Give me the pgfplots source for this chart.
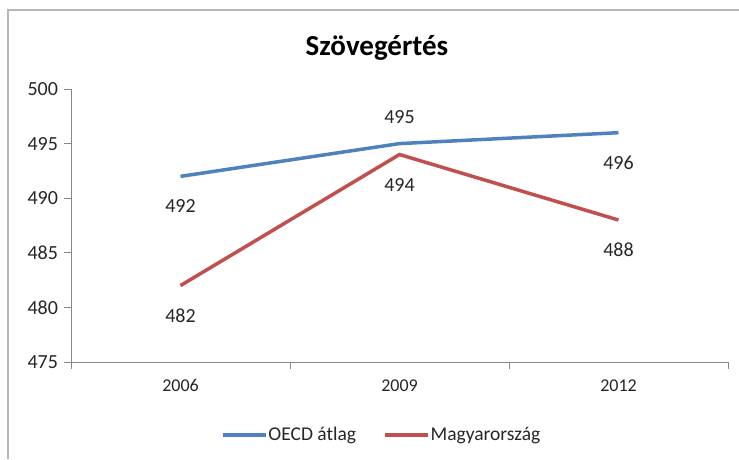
\documentclass[border=0pt]{standalone}
\usepackage{fontspec}
\setmainfont{Carlito}
\usepackage{pgfplots}
\pgfplotsset{compat=1.18}
\definecolor{oecd}{HTML}{4F81BD}
\definecolor{hun}{HTML}{C0504D}
\definecolor{axgray}{HTML}{868686}
\begin{document}
\begin{tikzpicture}[x=1pt,y=1pt]
\useasboundingbox (0,0) rectangle (739,459);
\draw[axgray!60, line width=1.5pt] (8,0) -- (8,449) -- (739,449);
\node[font=\fontsize{29}{33}\selectfont\bfseries] at (377,411) {Szövegértés};
\begin{axis}[
  at={(71pt,97pt)}, anchor=south west, scale only axis,
  width=657pt, height=273pt,
  xmin=-0.5, xmax=2.5, ymin=475, ymax=500,
  ytick={475,480,...,500},
  xtick={-0.5,0.5,1.5,2.5}, xticklabels={},
  extra x ticks={0,1,2}, extra x tick labels={2006,2009,2012},
  extra x tick style={major tick length=0pt},
  axis x line=bottom, axis y line=left,
  axis line style={-, axgray, line width=1pt},
  tick style={axgray, line width=1pt},
  tick align=outside,
  major tick length=6.5pt,
  ticklabel style={text=black!85},
  xticklabel style={yshift=-14pt, font=\fontsize{18}{21}\selectfont},
  yticklabel style={xshift=-3pt, font=\fontsize{20}{23}\selectfont},
  /pgf/number format/assume math mode=true,
  legend style={at={(0.472,-0.267)}, anchor=center, draw=none, fill=none,
    legend columns=2, font=\fontsize{19.5}{22}\selectfont, text=black!85,
    /tikz/every even column/.append style={column sep=26pt},
    nodes={inner sep=1pt}},
  legend image code/.code={\draw[#1] (0pt,0pt) -- (43pt,0pt);},
  every node near coord/.append style={font=\fontsize{20}{23}\selectfont, text=black!85, anchor=center},
  clip=false,
]
\addplot[oecd, line width=3.5pt] coordinates {(0,492) (1,495) (2,496)};
\addlegendentry{OECD átlag}
\addplot[hun, line width=3.5pt] coordinates {(0,482) (1,494) (2,488)};
\addlegendentry{Magyarország}
\addplot[draw=none, forget plot, nodes near coords,
  every node near coord/.append style={yshift=-30pt}]
  coordinates {(0,492) (2,496) (0,482) (1,494) (2,488)};
\addplot[draw=none, forget plot, nodes near coords,
  every node near coord/.append style={yshift=27pt}]
  coordinates {(1,495)};
\end{axis}
\end{tikzpicture}
\end{document}
